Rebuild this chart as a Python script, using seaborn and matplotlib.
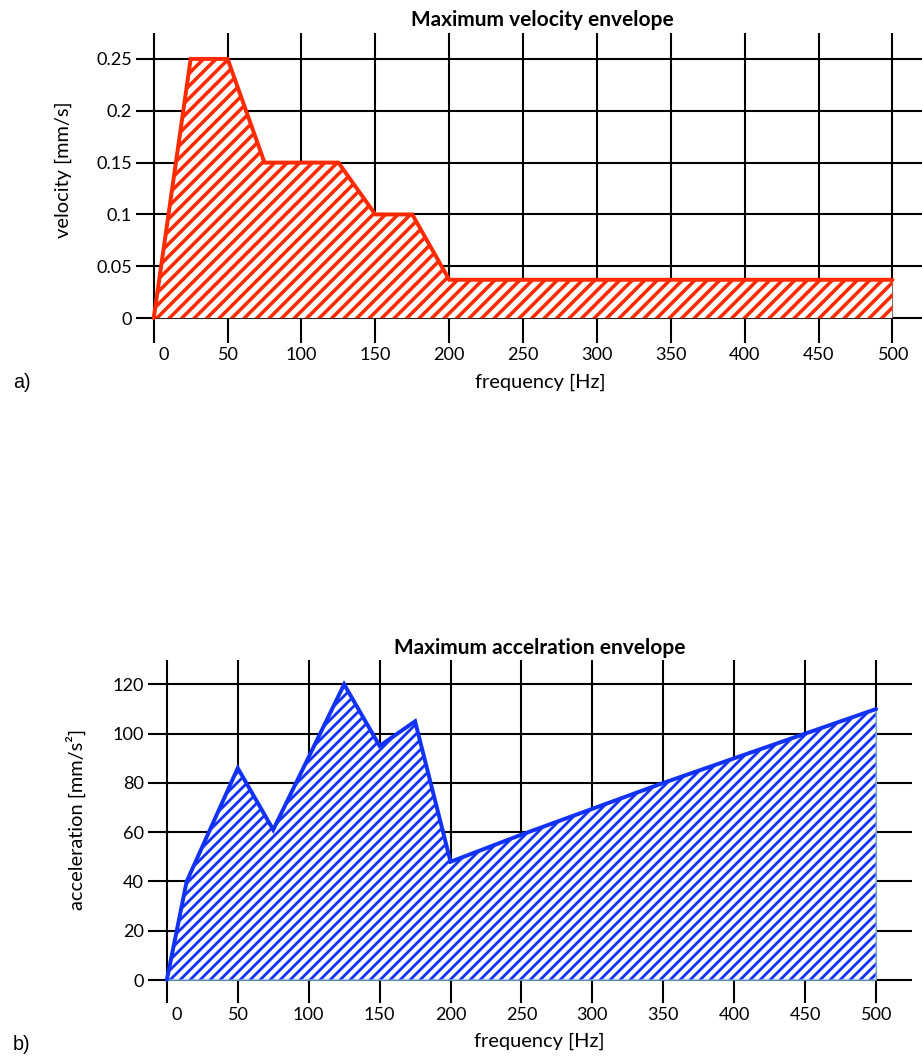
import numpy as np
import pandas as pd
import matplotlib
matplotlib.use("Agg")
import matplotlib.pyplot as plt
import matplotlib.transforms as mtransforms
import seaborn as sns

# -------------------- DATA --------------------
vel_freq = [0, 25, 50, 75, 125, 150, 175, 200, 500]
vel_vals = [0, 0.25, 0.25, 0.15, 0.15, 0.10, 0.10, 0.037, 0.037]

acc_freq = [0, 14, 50, 75, 125, 150, 175, 200, 250, 300, 350, 400, 450, 500]
acc_vals = [0, 40, 86, 61, 120, 95, 105, 48, 59, 69.5, 80, 90, 100, 110]

freq_ticks = list(range(0, 501, 50))
vel_ticks = [0, 0.05, 0.1, 0.15, 0.2, 0.25]
vel_tick_labels = ["0", "0.05", "0.1", "0.15", "0.2", "0.25"]
acc_ticks = list(range(0, 121, 20))

RED = "#ff2a00"
BLUE = "#1233f5"

sns.set_style("white")
plt.rcParams["font.family"] = ["Lato", "DejaVu Sans"]
plt.rcParams["text.color"] = "black"
plt.rcParams["axes.labelcolor"] = "black"

DPI = 150
fig = plt.figure(figsize=(922 / DPI, 1061 / DPI), dpi=DPI)


def envelope(ax, freq, vals, color, hatch, hatch_lw, ticks, tick_labels,
             xlim, ylim, title, ylabel, title_pos, xlabel_pos, ylabel_pos,
             outline=None):
    df = pd.DataFrame({"freq": freq, "val": vals})
    ax.set_axisbelow(True)
    ax.grid(True, color="black", linewidth=1.0)
    coll = ax.fill_between(df["freq"], 0, df["val"], facecolor="white",
                           edgecolor=color, hatch=hatch, linewidth=0, zorder=2)
    if hasattr(coll, "set_hatch_linewidth"):
        coll.set_hatch_linewidth(hatch_lw)
    if outline:
        ax.fill_between(df["freq"], 0, df["val"], facecolor="none",
                        edgecolor=outline, linewidth=0.7, zorder=2.5)
    sns.lineplot(data=df, x="freq", y="val", ax=ax, color=color, linewidth=1.9,
                 estimator=None, sort=False, zorder=3)
    line = ax.get_lines()[-1]
    line.set_solid_joinstyle("miter")

    ax.set_xticks(freq_ticks)
    ax.set_yticks(ticks)
    ax.set_yticklabels(tick_labels)
    ax.set_xlim(*xlim)
    ax.set_ylim(*ylim)
    for s in ax.spines.values():
        s.set_visible(False)
    ax.tick_params(length=0, labelsize=8.7, pad=2, colors="black")

    ax.set_xlabel("frequency [Hz]", fontsize=9.6)
    ax.xaxis.label.set_va("center")
    ax.xaxis.set_label_coords(*xlabel_pos)
    ax.set_ylabel(ylabel, fontsize=9.6)
    ax.yaxis.label.set_va("center")
    ax.yaxis.set_label_coords(*ylabel_pos)
    ax.text(title_pos[0], title_pos[1], title, transform=ax.transAxes,
            ha="center", va="center", fontsize=10, fontweight="bold")

    # the "0" label sits a bit right of its grid line in the original
    first = ax.xaxis.get_major_ticks()[0].label1
    first.set_transform(first.get_transform() + mtransforms.ScaledTranslation(
        10 / DPI, 0, fig.dpi_scale_trans))


# -------------------- VELOCITY --------------------
ax1 = fig.add_axes([0.1475, 0.6767, 0.8525, 0.2922])
plt.rcParams["hatch.linewidth"] = 1.7
envelope(ax1, vel_freq, vel_vals, RED, "////", 1.7, vel_ticks, vel_tick_labels,
         (-12, 520), (-0.024, 0.275), "Maximum velocity envelope",
         "velocity [mm/s]", (0.5165, 1.042), (0.515, -0.126), (-0.093, 0.558))

# -------------------- ACCELERATION --------------------
ax2 = fig.add_axes([0.1609, 0.0547, 0.8279, 0.3233])
plt.rcParams["hatch.linewidth"] = 1.35
envelope(ax2, acc_freq, acc_vals, BLUE, "/////", 1.35, acc_ticks,
         [str(t) for t in acc_ticks], (-13, 525), (-9.3, 129.9),
         "Maximum accelration envelope", "acceleration [mm/s\u00b2]",
         (0.5125, 1.035), (0.512, -0.113), (-0.0947, 0.534),
         outline="#7aaede")

fig.text(22 / 922, 1 - 383 / 1061, "a)", family=["Liberation Sans"],
         fontsize=9.5, ha="center", va="center")
fig.text(22 / 922, 1 - 1045 / 1061, "b)", family=["Liberation Sans"],
         fontsize=9.5, ha="center", va="center")

fig.savefig("out.png", dpi=DPI)
